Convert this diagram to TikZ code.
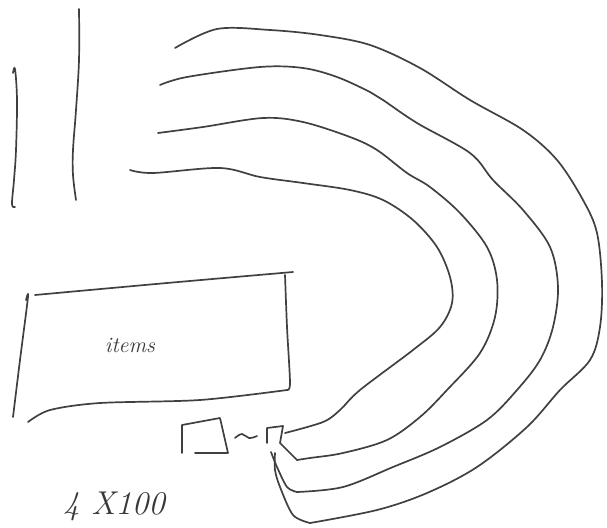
\documentclass[tikz,border=0pt]{standalone}
\begin{document}
\begin{tikzpicture}[x=1pt,y=-1pt,
  pen/.style={draw=black!75, line width=1.7pt, line cap=round, line join=round},
  hand/.style={text=black!78, font=\itshape}]
\useasboundingbox (0,0) rectangle (607,527);
% vertical strokes
\draw[pen] plot[smooth, tension=0.6] coordinates {(13,73) (15,69) (17,100) (16,150) (14,180) (12,204) (15,207)};
\draw[pen] plot[smooth, tension=0.6] coordinates {(79,9) (79,60) (76,110) (73,150) (73,175) (76,200)};
% big box
\draw[pen] plot[smooth, tension=0.5] coordinates {(35,295) (167,283) (293,272)};
\draw[pen] plot[smooth, tension=0.5] coordinates {(285,275) (287,327) (290,383) (287,390)};
\draw[pen] plot[smooth, tension=0.5] coordinates {(287,390) (200,400) (100,403) (50,410) (28,422)};
\draw[pen] plot[smooth, tension=0.5] coordinates {(26,300) (28,297) (20,360) (13,417)};
\node[hand, font=\itshape\fontsize{22}{22}\selectfont] (items) at (130,345) {items};
% small box
\draw[pen] (182,453) -- (182,425) -- (220,418) -- (228,453) -- (195,453);
\draw[pen] plot[smooth, tension=0.7] coordinates {(235,438) (242,434) (249,438) (257,436)};
% connector piece
\draw[pen] (267,443) -- (267,428) -- (283,426) -- (280,443) -- (297,460);
% curve A (innermost)
\draw[pen] plot[smooth, tension=0.55] coordinates {(130,170) (153,173) (220,168) (260,177) (303,183) (350,190) (383,200) (413,220) (437,247) (450,277) (452,303) (440,327) (413,350) (360,390) (340,410) (323,422) (285,433)};
% curve B
\draw[pen] plot[smooth, tension=0.55] coordinates {(158,133) (203,127) (263,118) (303,122) (350,137) (377,150) (407,173) (430,187) (460,213) (487,247) (497,280) (495,317) (480,353) (447,390) (420,417) (387,440) (343,453) (310,458) (297,460)};
% curve C
\draw[pen] plot[smooth, tension=0.55] coordinates {(160,85) (187,77) (260,67) (303,68) (337,77) (370,92) (383,100) (417,123) (470,153) (493,180) (523,210) (550,247) (558,287) (553,327) (540,360) (517,390) (487,420) (440,447) (393,467) (343,487) (297,492)};
\draw[pen] plot[smooth, tension=0.5] coordinates {(297,492) (287,487) (277,467) (271,452)};
% curve D (outermost)
\draw[pen] plot[smooth, tension=0.55] coordinates {(175,48) (217,29) (270,30) (320,35) (370,45) (420,68) (470,100) (523,130) (557,160) (583,200) (597,233) (602,283) (600,327) (590,360) (560,390) (527,427) (477,467) (427,493) (377,510) (310,523)};
\draw[pen] plot[smooth, tension=0.5] coordinates {(310,523) (293,515) (280,487) (275,470) (275,453)};
% label
\node[hand, font=\itshape\fontsize{33}{33}\selectfont] (size) at (114,506) {4 X100};
\end{tikzpicture}
\end{document}
